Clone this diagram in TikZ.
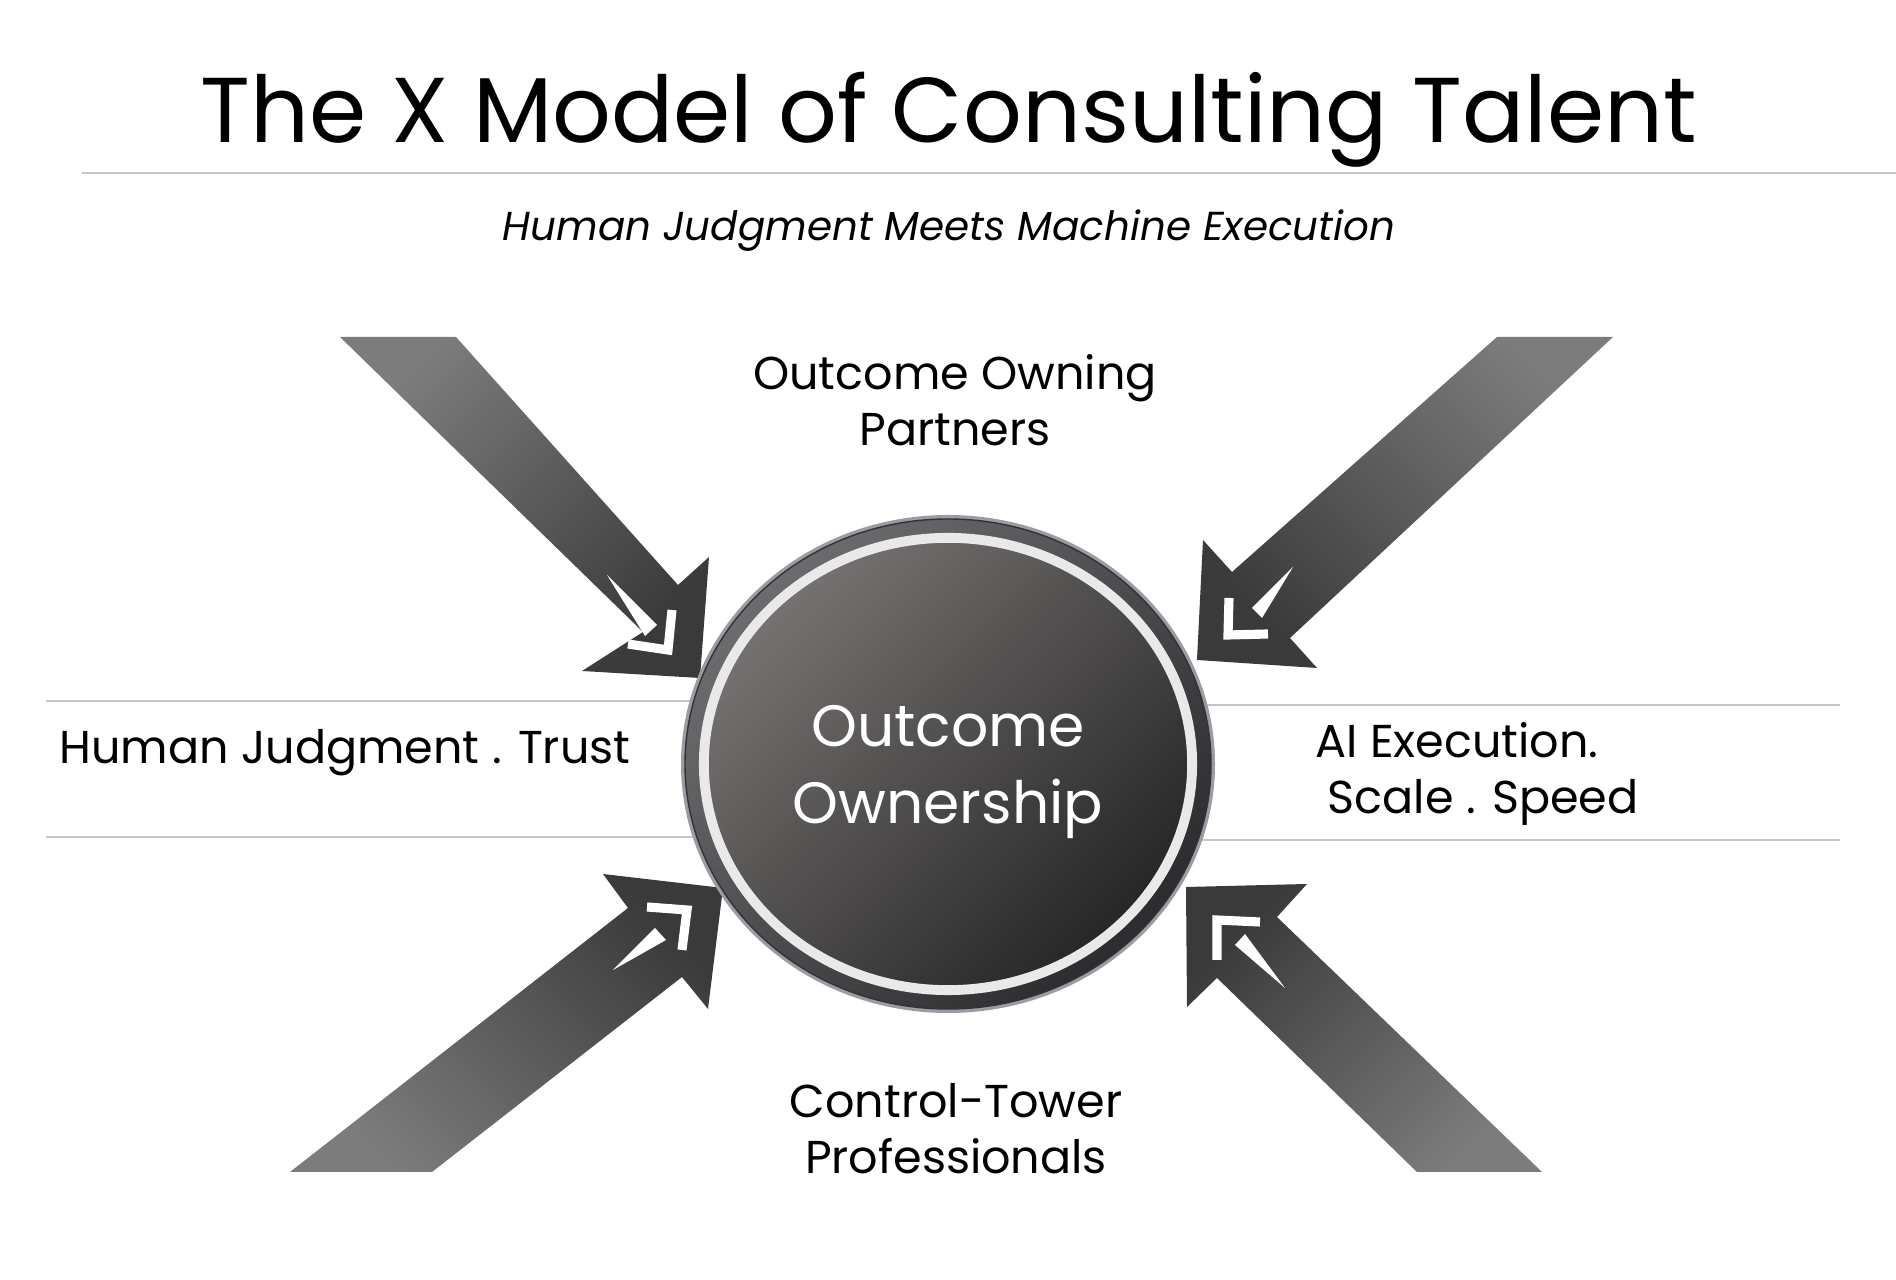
\documentclass[tikz,border=0pt]{standalone}
\usepackage{fontspec}
\setmainfont{Poppins}
\usepackage{tikz}
\usetikzlibrary{shapes.geometric}

\definecolor{ruleGray}{HTML}{C6C6C6}
\definecolor{arrowLight}{HTML}{7C7C7C}
\definecolor{arrowMid}{HTML}{5E5E5E}
\definecolor{arrowDark}{HTML}{3A3A3A}
\definecolor{rimLight}{HTML}{9C9C9E}
\definecolor{rimDark}{HTML}{2E3340}
\definecolor{bezelLight}{HTML}{6C6C6E}
\definecolor{bezelDark}{HTML}{2C2C2E}
\definecolor{hubLight}{HTML}{767271}
\definecolor{hubDark}{HTML}{262626}
\definecolor{ringWhite}{HTML}{E9E9E9}

\begin{document}
\begin{tikzpicture}[x=0.01cm, y=-0.01cm,
  band/.style={ruleGray, line width=0.6pt},
  sidetext/.style={font=\fontsize{13.1}{16.2}\selectfont, align=center, anchor=base},
  arrowbody/.style={shading=axis, top color=arrowLight, middle color=arrowMid, bottom color=arrowDark, shading angle=#1},
  glint/.style={fill=white},
  barb/.style={draw=white, line width=2.6pt, line join=miter},
  hub/.style={ellipse, minimum width=4.88cm, minimum height=4.52cm, inner sep=0pt,
    shading=axis, top color=hubLight, bottom color=hubDark, shading angle=45,
    draw=ringWhite, line width=2.8pt, text=white, align=center,
    font=\fontsize{16.6}{21.9}\selectfont}]

\fill[white] (0,0) rectangle (1896,1280);
\useasboundingbox (0,0) rectangle (1896,1280);

% heading
\node[font=\fontsize{26.2}{32}\selectfont, anchor=base] (title) at (949,143) {The X Model of Consulting Talent};
\draw[ruleGray, line width=0.7pt] (82,173) -- (1896,173);
\node[font=\itshape\fontsize{11.5}{14}\selectfont, anchor=base] (subtitle) at (949,241) {Human Judgment Meets Machine Execution};

% side bands
\draw[band] (46,701) -- (700,701);
\draw[band] (46,837) -- (700,837);
\draw[band] (1200,705) -- (1840,705);
\draw[band] (1200,840) -- (1840,840);

% four arrows into the hub
\shade[arrowbody=45] (340,337) -- (456,337) -- (678,585) -- (709,557) -- (700,678) -- (582,671) -- (643,632) -- cycle;
\fill[glint] (607,575) -- (657,625) -- (645,636) -- cycle;
\draw[barb] (628,644) -- (668,650) -- (672,610);

\shade[arrowbody=-45] (1497,337) -- (1613,337) -- (1290,638) -- (1317,668) -- (1197,660) -- (1203,540) -- (1232,572) -- cycle;
\fill[glint] (1293,567) -- (1262,618) -- (1252,608) -- cycle;
\draw[barb] (1229,598) -- (1228,635) -- (1268,634);

\shade[arrowbody=135] (290,1172) -- (628,908) -- (603,874) -- (723,888) -- (708,1009) -- (682,977) -- (432,1172) -- cycle;
\fill[glint] (613,970) -- (655,928) -- (666,940) -- cycle;
\draw[barb] (647,907) -- (687,910) -- (682,950);

\shade[arrowbody=-135] (1417,1172) -- (1217,978) -- (1187,1007) -- (1186,887) -- (1307,884) -- (1277,917) -- (1542,1172) -- cycle;
\fill[glint] (1285,988) -- (1245,934) -- (1235,945) -- cycle;
\draw[barb] (1217,960) -- (1217,920) -- (1260,922);

% hub with bezel
\fill[rimLight] (948,764) ellipse [x radius=267, y radius=249];
\shade[top color=bezelLight, bottom color=bezelDark, shading angle=45, draw=rimDark, line width=0.4pt] (948,764) ellipse [x radius=263, y radius=245];
\node[hub, text depth=0pt] (core) at (948,764) {Outcome\\Ownership};

% labels
\node[sidetext] (partners) at (955,446) {Outcome Owning\\Partners};
\node[sidetext] (judgment) at (345,764) {Human Judgment . Trust};
\node[sidetext, align=left, anchor=base west] (execution) at (1303,814) {AI Execution.\\\ Scale . Speed};
\node[sidetext] (tower) at (956,1174) {Control-Tower\\Professionals};

\end{tikzpicture}
\end{document}
